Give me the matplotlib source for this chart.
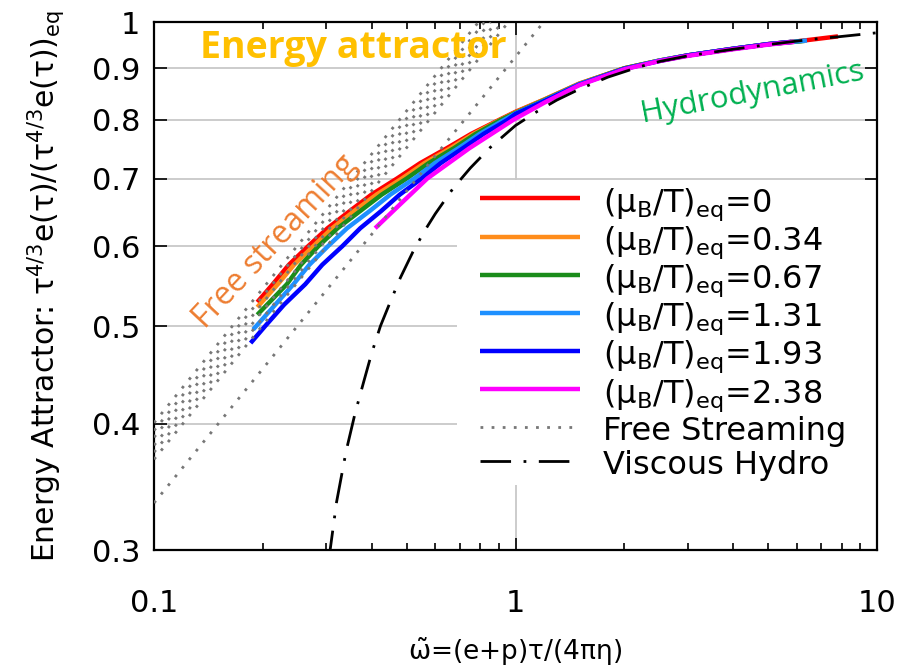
import matplotlib
matplotlib.use('Agg')
import matplotlib.pyplot as plt
from matplotlib.patches import Rectangle
from matplotlib.ticker import FixedLocator, FixedFormatter, NullLocator, NullFormatter, LogLocator

plt.rcParams['font.family'] = ['DejaVu Sans']
plt.rcParams['mathtext.fontset'] = 'dejavusans'

# attractor curves, one per (mu_B/T)_eq
mu_labels = ['0', '0.34', '0.67', '1.31', '1.93', '2.38']
mu_colours = ['#ff0000', '#ff8c1a', '#1a8c1a', '#1e90ff', '#0000ff', '#ff00ff']

red_x = [0.193, 0.213, 0.236, 0.267, 0.302, 0.348, 0.400, 0.470, 0.545, 0.645, 0.754, 0.900,
         1.0, 1.2, 1.5, 2.0, 2.5, 3.0, 4.0, 5.0, 6.0, 7.8]
red_y = [0.528, 0.550, 0.575, 0.600, 0.625, 0.650, 0.675, 0.700, 0.725, 0.750, 0.775, 0.800,
         0.815, 0.838, 0.869, 0.900, 0.916, 0.927, 0.941, 0.951, 0.957, 0.968]
orange_x = [0.193, 0.220, 0.244, 0.276, 0.311, 0.358, 0.413, 0.485, 0.560, 0.660, 0.765, 0.905,
            1.0, 1.2, 1.5, 2.0, 2.5, 3.0, 4.0, 5.0, 6.2]
orange_y = [0.522, 0.550, 0.575, 0.600, 0.625, 0.650, 0.675, 0.700, 0.725, 0.750, 0.775, 0.800,
            0.814, 0.838, 0.869, 0.900, 0.916, 0.927, 0.941, 0.951, 0.958]
green_x = [0.193, 0.233, 0.255, 0.285, 0.322, 0.372, 0.427, 0.500, 0.575, 0.675, 0.776, 0.910,
           1.0, 1.2, 1.5, 2.0, 2.5, 3.0, 4.0, 5.0, 6.3]
green_y = [0.513, 0.550, 0.575, 0.600, 0.625, 0.650, 0.675, 0.700, 0.725, 0.750, 0.775, 0.800,
           0.813, 0.837, 0.868, 0.900, 0.916, 0.927, 0.941, 0.951, 0.958]
lightblue_x = [0.188, 0.243, 0.269, 0.303, 0.342, 0.395, 0.451, 0.525, 0.598, 0.695, 0.796, 0.930,
               1.0, 1.2, 1.5, 2.0, 2.5, 3.0, 4.0, 5.0, 6.4]
lightblue_y = [0.496, 0.550, 0.575, 0.600, 0.625, 0.650, 0.675, 0.700, 0.725, 0.750, 0.775, 0.800,
               0.812, 0.836, 0.868, 0.899, 0.916, 0.927, 0.941, 0.951, 0.959]
blue_x = [0.185, 0.203, 0.229, 0.262, 0.292, 0.332, 0.372, 0.425, 0.479, 0.550, 0.621, 0.715,
          0.816, 0.950, 1.0, 1.2, 1.5, 2.0, 2.5, 3.0, 4.0, 5.0, 5.8]
blue_y = [0.481, 0.500, 0.525, 0.550, 0.575, 0.600, 0.625, 0.650, 0.675, 0.700, 0.725, 0.750,
          0.775, 0.800, 0.811, 0.835, 0.867, 0.899, 0.915, 0.927, 0.941, 0.951, 0.956]
magenta_x = [0.409, 0.471, 0.570, 0.745, 0.985, 1.2, 1.5, 2.0, 2.5, 3.0, 4.0, 5.0, 5.9]
magenta_y = [0.625, 0.656, 0.700, 0.750, 0.800, 0.832, 0.866, 0.898, 0.915, 0.926, 0.940, 0.950, 0.956]

curves_x = [red_x, orange_x, green_x, lightblue_x, blue_x, magenta_x]
curves_y = [red_y, orange_y, green_y, lightblue_y, blue_y, magenta_y]

# free streaming lines: value at w=0.1 and the w where they reach 1
fs_y_start = [0.401, 0.394, 0.388, 0.381, 0.375, 0.369, 0.334]
fs_x_end = [0.790, 0.821, 0.852, 0.885, 0.920, 0.956, 1.196]

# first order viscous hydro
hydro_x = [0.300, 0.307, 0.320, 0.340, 0.360, 0.380, 0.400, 0.423, 0.450, 0.480, 0.520, 0.560,
           0.600, 0.673, 0.750, 0.850, 1.0, 1.15, 1.3, 1.5, 1.8, 2.2, 2.5, 3.0, 4.0, 5.0,
           6.5, 7.8, 10.0, 11.0]
hydro_y = [0.293, 0.300, 0.335, 0.376, 0.410, 0.440, 0.470, 0.500, 0.528, 0.558, 0.592, 0.621,
           0.646, 0.685, 0.717, 0.751, 0.790, 0.816, 0.837, 0.858, 0.882, 0.903, 0.914, 0.926,
           0.940, 0.950, 0.961, 0.967, 0.976, 0.979]

y_ticks = [0.3, 0.4, 0.5, 0.6, 0.7, 0.8, 0.9, 1.0]
y_tick_labels = ['0.3', '0.4', '0.5', '0.6', '0.7', '0.8', '0.9', '1']
x_ticks = [0.1, 1, 10]
x_tick_labels = ['0.1', '1', '10']

fig = plt.figure(figsize=(9.06, 6.70), dpi=100)
ax = fig.add_axes([0.170, 0.179, 0.798, 0.788])
ax.set_xscale('log')
ax.set_yscale('log')

lines = []
for cx, cy, col, lab in zip(curves_x, curves_y, mu_colours, mu_labels):
    ln, = ax.plot(cx, cy, color=col, lw=3.2, solid_capstyle='butt', solid_joinstyle='round',
                  label=r'$\mathregular{(μ_B/T)_{eq}}$=' + lab, zorder=3)
    lines.append(ln)

for i, (y0, x1) in enumerate(zip(fs_y_start, fs_x_end)):
    ln, = ax.plot([0.1, x1], [y0, 1.0], color='#777777', lw=2.0,
                  linestyle=(0, (1.0, 3.0)), zorder=4)
    if i == 0:
        fs_line = ln

hydro_line, = ax.plot(hydro_x, hydro_y, color='black', lw=2.0,
                      linestyle=(0, (11, 4.5, 1, 4.5)), zorder=3)

ax.set_xlim(0.1, 10)
ax.set_ylim(0.3, 1.0)

ax.yaxis.set_major_locator(FixedLocator(y_ticks))
ax.yaxis.set_major_formatter(FixedFormatter(y_tick_labels))
ax.yaxis.set_minor_locator(NullLocator())
ax.xaxis.set_major_locator(FixedLocator(x_ticks))
ax.xaxis.set_major_formatter(FixedFormatter(x_tick_labels))
ax.xaxis.set_minor_locator(LogLocator(base=10, subs=range(2, 10)))
ax.xaxis.set_minor_formatter(NullFormatter())

ax.tick_params(which='both', direction='in', top=True, right=True, width=1.2)
ax.tick_params(which='major', length=9, labelsize=22)
ax.tick_params(axis='x', which='major', pad=28)
ax.tick_params(axis='y', which='major', pad=10)
ax.tick_params(which='minor', length=5)
for sp in ax.spines.values():
    sp.set_linewidth(1.6)

ax.grid(True, which='major', color='#c8c8c8', lw=1.3)
ax.set_axisbelow(True)

# white box behind the key hides the grid there
ax.add_patch(Rectangle(((457 - 154) / 723, (550 - 485) / 528), (877 - 457) / 723, (485 - 180) / 528,
                       transform=ax.transAxes, facecolor='white', edgecolor='none', zorder=1))

ax.set_xlabel(r'$\mathregular{\tilde{ω}}$=(e+p)τ/(4πη)', fontsize=19, labelpad=13)
ax.set_ylabel(r'Energy Attractor: $\mathregular{τ^{4/3}}$e(τ)/($\mathregular{τ^{4/3}}$e(τ))$\mathregular{_{eq}}$',
              fontsize=21.5, labelpad=18)

handles = lines + [fs_line, hydro_line]
labels = [ln.get_label() for ln in lines] + ['Free Streaming', 'Viscous Hydro']
leg = ax.legend(handles, labels, loc='upper left',
                bbox_to_anchor=((480 - 154) / 723, (550 - 185) / 528),
                fontsize=23, frameon=False, borderaxespad=0, borderpad=0,
                handlelength=3.13, handleheight=1.15, handletextpad=0.72, labelspacing=0)
leg.set_zorder(5)

ax.text(0.134, 0.921, 'Energy attractor', color='#ffc000', fontsize=27,
        fontweight='bold', family='Open Sans', ha='left', va='baseline', zorder=6)
ax.text(0.2248, 0.598, 'Free streaming', color='#ed7d31', fontsize=23,
        family='Open Sans', rotation=47, rotation_mode='anchor',
        ha='center', va='baseline', zorder=6)
ax.text(4.56, 0.837, 'Hydrodynamics', color='#00b050', fontsize=22.5,
        family='Open Sans', rotation=11, rotation_mode='anchor',
        ha='center', va='baseline', zorder=6)

fig.savefig('out.png', dpi=100)
